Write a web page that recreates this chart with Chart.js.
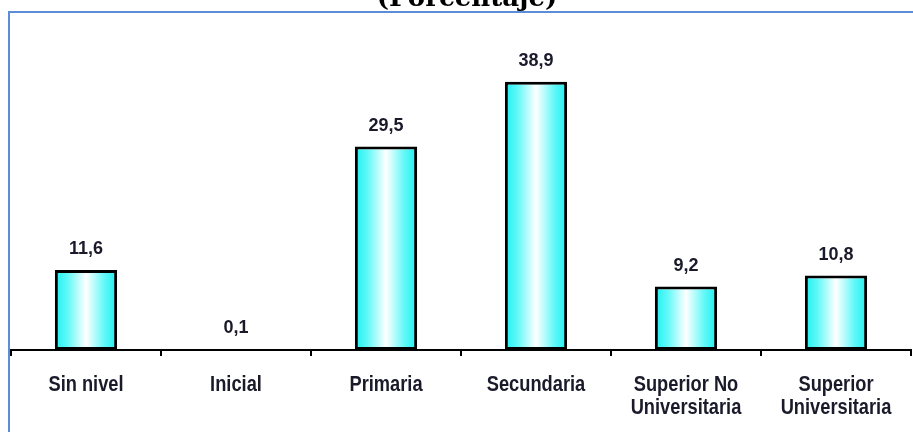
<!DOCTYPE html>
<html>
<head>
<meta charset="utf-8">
<script src="https://cdn.jsdelivr.net/npm/chart.js@4.4.1/dist/chart.umd.min.js"></script>
<style>
  html, body { margin: 0; padding: 0; background: #fff; }
  #wrap { width: 913px; height: 432px; position: relative; }
</style>
</head>
<body>
<div id="wrap"><canvas id="c" width="913" height="432"></canvas></div>
<script>
const titleText = '(Porcentaje)';
const categories = ['Sin nivel', 'Inicial', 'Primaria', 'Secundaria', ['Superior No', 'Universitaria'], ['Superior', 'Universitaria']];
const values = [11.6, 0.1, 29.5, 38.9, 9.2, 10.8];

const SANS = "'Liberation Sans', Arial, sans-serif";
const BAR_PCT = 0.415;
const TEXT_COLOR = '#1a1a2a';

function barGradient(ctx) {
  const chart = ctx.chart;
  const xs = chart.scales.x;
  if (!chart.chartArea || !xs) return '#33f6f6';
  const cx = xs.getPixelForValue(ctx.dataIndex);
  const half = (xs.width / categories.length) * BAR_PCT / 2;
  const g = chart.ctx.createLinearGradient(cx - half, 0, cx + half, 0);
  g.addColorStop(0, '#1ff0f0');
  g.addColorStop(0.2, '#5ff8f8');
  g.addColorStop(0.5, '#ffffff');
  g.addColorStop(0.8, '#5ff8f8');
  g.addColorStop(1, '#1ff0f0');
  return g;
}

const framePlugin = {
  id: 'frame',
  beforeDraw(chart) {
    const c = chart.ctx;
    c.save();
    c.fillStyle = '#ffffff';
    c.fillRect(0, 0, chart.width, chart.height);
    c.restore();
  },
  afterDraw(chart) {
    const c = chart.ctx;
    c.save();
    c.strokeStyle = '#5b8ed6';
    c.lineWidth = 2;
    c.beginPath();
    c.moveTo(9, 432);
    c.lineTo(9, 12);
    c.lineTo(913, 12);
    c.stroke();
    c.fillStyle = '#000';
    c.font = "bold 26px 'DejaVu Serif', serif";
    c.textAlign = 'center';
    c.textBaseline = 'alphabetic';
    c.fillText(titleText, 467, 6);
    c.restore();
  }
};

const categoryLabels = {
  id: 'categoryLabels',
  afterDraw(chart) {
    const c = chart.ctx;
    const xs = chart.scales.x;
    c.save();
    c.fillStyle = TEXT_COLOR;
    c.font = "bold 22px " + SANS;
    c.textAlign = 'center';
    c.textBaseline = 'alphabetic';
    categories.forEach((lab, i) => {
      const lines = Array.isArray(lab) ? lab : [lab];
      const x = xs.getPixelForValue(i);
      lines.forEach((ln, k) => {
        c.save();
        c.translate(x, 391 + k * 23);
        c.scale(0.83, 1);
        c.fillText(ln, 0, 0);
        c.restore();
      });
    });
    c.restore();
  }
};

const valueLabels = {
  id: 'valueLabels',
  afterDatasetsDraw(chart) {
    const c = chart.ctx;
    const meta = chart.getDatasetMeta(0);
    c.save();
    c.fillStyle = TEXT_COLOR;
    c.font = "bold 18px " + SANS;
    c.textAlign = 'center';
    c.textBaseline = 'alphabetic';
    meta.data.forEach((bar, i) => {
      c.fillText(values[i].toFixed(1).replace('.', ','), bar.x, bar.y - 16);
    });
    c.restore();
  }
};

new Chart(document.getElementById('c'), {
  type: 'bar',
  data: {
    labels: categories,
    datasets: [{
      data: values,
      backgroundColor: barGradient,
      borderColor: '#000',
      borderWidth: 3,
      borderSkipped: false,
      barPercentage: BAR_PCT,
      categoryPercentage: 1
    }]
  },
  options: {
    responsive: false,
    animation: false,
    devicePixelRatio: 1,
    layout: { padding: { left: 11, right: 2, top: 19, bottom: 0 } },
    plugins: { legend: { display: false }, tooltip: { enabled: false }, title: { display: false } },
    scales: {
      y: { display: false, min: 0, max: 48 },
      x: {
        offset: true,
        grid: { display: true, offset: true, drawOnChartArea: false, drawTicks: true, tickLength: 6, color: '#000', lineWidth: 2 },
        border: { display: true, color: '#000', width: 2 },
        ticks: { display: false, autoSkip: false, maxRotation: 0, minRotation: 0 },
        afterFit(scale) { scale.height = 82; }
      }
    }
  },
  plugins: [framePlugin, categoryLabels, valueLabels]
});
</script>
</body>
</html>
